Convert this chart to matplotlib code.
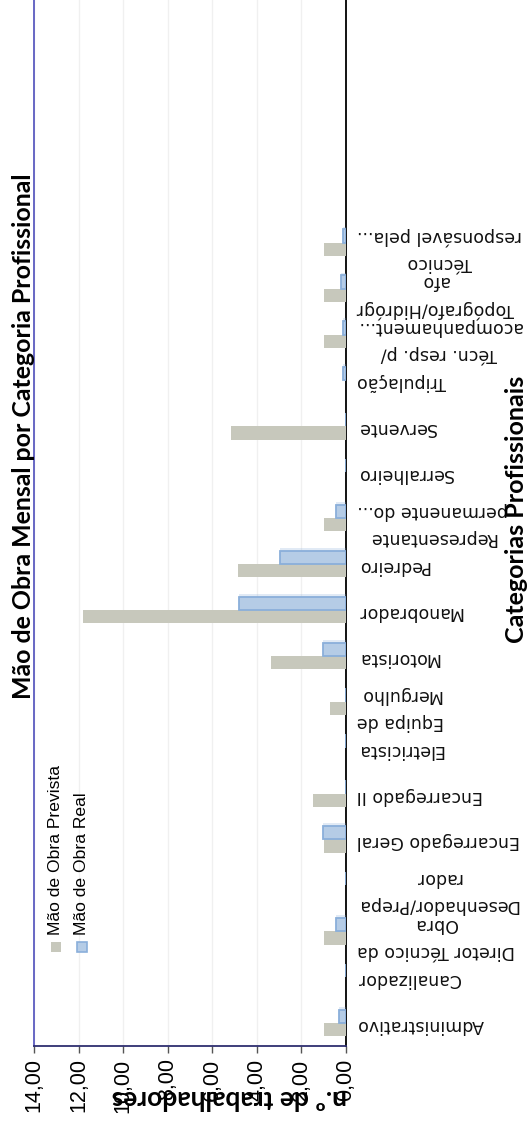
import numpy as np
import matplotlib
matplotlib.use('Agg')
import matplotlib.pyplot as plt
from matplotlib.patches import Rectangle
import matplotlib.patheffects as pe

# categories, bottom to top
categorias = ['Administrativo', 'Canalizador', 'Diretor Técnico da\nObra',
              'Desenhador/Prepa\nrador', 'Encarregado Geral', 'Encarregado II',
              'Eletricista', 'Equipa de\nMergulho', 'Motorista', 'Manobrador',
              'Pedreiro', 'Representante\npermanente do...', 'Serralheiro',
              'Servente', 'Tripulação', 'Técn. resp. p/\nacompanhament...',
              'Topógrafo/Hidrógr\nafo', 'Técnico\nresponsável pela...']
prevista = [1.0, 0, 1.0, 0, 1.0, 1.5, 0, 0.7, 3.36, 11.82, 4.83, 1.0, 0, 5.14,
            0, 1.0, 1.0, 1.0]
real = [0.3, 0, 0.45, 0, 1.02, 0, 0, 0, 1.05, 4.79, 2.97, 0.45, 0, 0, 0.12,
        0.15, 0.23, 0.15]
xticks = np.arange(0, 15, 2)
xticklabels = ['%d,00' % v for v in xticks]

c_prev = '#C7C8BC'
c_real = '#B5CCE6'
c_real_edge = '#8AAFDA'

W, H = 528, 1127
fig = plt.figure(figsize=(W/100., H/100.), dpi=100)
ax = fig.add_axes([34./W, 81./H, 312./W, 1046./H])

y = np.arange(len(categorias))
h = 0.29
ax.barh(y - h/2, prevista, height=h, color=c_prev, linewidth=0, zorder=3)
bl = ax.barh(y + h/2, real, height=h, color=c_real, edgecolor=c_real_edge,
             linewidth=1.3, zorder=3)
for b in bl:
    if b.get_width() > 0:
        b.set_path_effects([pe.SimplePatchShadow(offset=(0, 2), shadow_rgbFace='#8AAFDA',
                                                 alpha=0.25), pe.Normal()])

ax.set_xlim(14, 0)
ax.set_ylim(-0.5, -0.5 + 1046/45.9)
ax.set_xticks(xticks)
ax.set_xticklabels(xticklabels, rotation=90, fontsize=15.5, family='Liberation Sans')
ax.tick_params(axis='x', direction='out', length=5, width=1, color='#555555', pad=4)
ax.grid(axis='x', color='#F0F0F0', linewidth=1, zorder=0)

ax.yaxis.tick_right()
ax.set_yticks(y)
ax.set_yticklabels(categorias, fontsize=12.5, family='DejaVu Sans', color='#111111')
ax.tick_params(axis='y', length=0, pad=8)
for t in ax.get_yticklabels():
    t.set_rotation(180)
    t.set_multialignment('center')
    t.set_linespacing(1.65)

ax.spines['top'].set_visible(False)
ax.spines['left'].set_color('#5C5CC0')
ax.spines['bottom'].set_color('#2F2F70')
ax.spines['right'].set_color('black')
for s in ['left', 'bottom', 'right']:
    ax.spines[s].set_linewidth(1.3)

# titles
fig.text(24./W, 1 - 436./H, 'Mão de Obra Mensal por Categoria Profissional',
         rotation=90, ha='center', va='center', fontsize=17.9,
         family='Lato', weight='bold')
fig.text(517./W, 1 - 509./H, 'Categorias Profissionais', rotation=90,
         ha='center', va='center', fontsize=18, family='Lato', weight='bold')
fig.text(229./W, 1 - 1098./H, 'n.º de trabalhadores', rotation=180,
         ha='center', va='center', fontsize=19, family='Lato', weight='bold')

# legend
fig.patches.append(Rectangle((51./W, 1 - 952./H), 10./W, 10./H, transform=fig.transFigure,
                             facecolor=c_prev, edgecolor='none'))
fig.patches.append(Rectangle((77./W, 1 - 952./H), 10./W, 10./H, transform=fig.transFigure,
                             facecolor=c_real, edgecolor=c_real_edge, linewidth=1.2))
fig.text(56./W, 1 - 935./H, 'Mão de Obra Prevista', rotation=90, ha='center',
         va='bottom', fontsize=12.6, family='Liberation Sans')
fig.text(82./W, 1 - 935./H, 'Mão de Obra Real', rotation=90, ha='center',
         va='bottom', fontsize=12.6, family='Liberation Sans')

fig.savefig('out.png', dpi=100)
